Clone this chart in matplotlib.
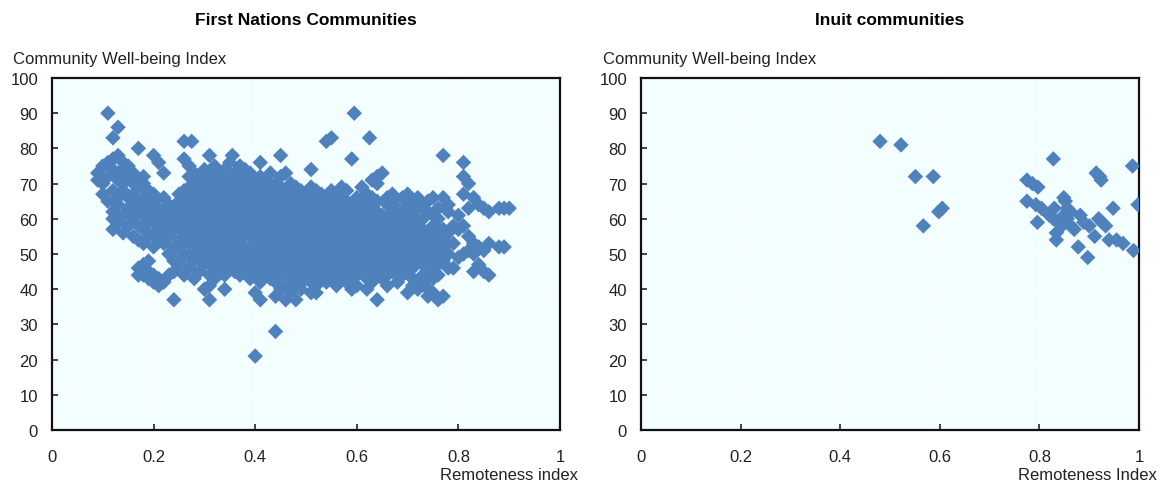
import matplotlib.pyplot as plt
from matplotlib import font_manager

# Remoteness index vs Community Well-being Index, per community
first_nations = [
    (0.09, 71), (0.09, 73),
    (0.10, 67), (0.10, 70), (0.10, 75),
    (0.11, 65), (0.11, 72), (0.11, 76), (0.11, 90),
    (0.12, 57), (0.12, 60), (0.12, 62), (0.12, 68), (0.12, 74), (0.12, 77), (0.12, 83),
    (0.13, 59), (0.13, 64), (0.13, 66), (0.13, 71), (0.13, 73), (0.13, 78), (0.13, 86),
    (0.14, 56), (0.14, 61), (0.14, 68), (0.14, 70), (0.14, 74), (0.14, 76),
    (0.15, 58), (0.15, 63), (0.15, 66), (0.15, 72), (0.15, 75),
    (0.16, 55), (0.16, 60), (0.16, 62), (0.16, 64), (0.16, 67), (0.16, 70), (0.16, 73),
    (0.17, 44), (0.17, 46), (0.17, 54), (0.17, 58), (0.17, 65), (0.17, 69), (0.17, 71), (0.17, 80),
    (0.18, 44), (0.18, 47), (0.18, 53), (0.18, 57), (0.18, 61), (0.18, 63), (0.18, 66), (0.18, 70), (0.18, 72),
    (0.19, 43), (0.19, 45), (0.19, 48), (0.19, 55), (0.19, 59), (0.19, 62), (0.19, 64), (0.19, 68),
    (0.20, 42), (0.20, 44), (0.20, 52), (0.20, 56), (0.20, 60), (0.20, 65), (0.20, 67), (0.20, 78),
    (0.21, 41), (0.21, 43), (0.21, 54), (0.21, 58), (0.21, 61), (0.21, 63), (0.21, 76),
    (0.22, 42), (0.22, 53), (0.22, 56), (0.22, 60), (0.22, 62), (0.22, 66), (0.22, 73),
    (0.23, 44), (0.23, 50), (0.23, 55), (0.23, 58), (0.23, 61), (0.23, 64),
    (0.24, 37), (0.24, 45), (0.24, 48), (0.24, 52), (0.24, 57), (0.24, 59), (0.24, 63),
    (0.25, 47), (0.25, 51), (0.25, 54), (0.25, 60), (0.25, 62), (0.25, 65), (0.25, 67),
    (0.26, 44), (0.26, 49), (0.26, 53), (0.26, 56), (0.26, 58), (0.26, 61), (0.26, 64), (0.26, 66),
    (0.26, 68), (0.26, 77), (0.26, 82),
    (0.27, 46), (0.27, 50), (0.27, 55), (0.27, 57), (0.27, 60), (0.27, 63), (0.27, 65), (0.27, 69),
    (0.27, 72), (0.27, 75), (0.275, 82),
    (0.28, 43), (0.28, 48), (0.28, 52), (0.28, 54), (0.28, 59), (0.28, 62), (0.28, 67), (0.28, 70), (0.28, 73),
    (0.29, 45), (0.29, 50), (0.29, 53), (0.29, 56), (0.29, 58), (0.29, 61), (0.29, 64), (0.29, 66),
    (0.29, 68), (0.29, 71),
    (0.30, 40), (0.30, 47), (0.30, 49), (0.30, 52), (0.30, 55), (0.30, 57), (0.30, 60), (0.30, 63),
    (0.30, 65), (0.30, 70), (0.30, 72), (0.30, 74),
    (0.31, 37), (0.31, 41), (0.31, 44), (0.31, 48), (0.31, 51), (0.31, 54), (0.31, 59), (0.31, 62),
    (0.31, 67), (0.31, 69), (0.31, 73), (0.31, 78),
    (0.32, 43), (0.32, 46), (0.32, 50), (0.32, 53), (0.32, 56), (0.32, 58), (0.32, 61), (0.32, 64),
    (0.32, 66), (0.32, 71), (0.32, 75),
    (0.33, 45), (0.33, 48), (0.33, 52), (0.33, 55), (0.33, 57), (0.33, 60), (0.33, 63), (0.33, 68),
    (0.33, 70), (0.33, 73),
    (0.34, 40), (0.34, 44), (0.34, 47), (0.34, 50), (0.34, 54), (0.34, 59), (0.34, 62), (0.34, 65),
    (0.34, 67), (0.34, 72), (0.34, 74),
    (0.35, 46), (0.35, 49), (0.35, 52), (0.35, 56), (0.35, 58), (0.35, 61), (0.35, 64), (0.35, 69),
    (0.35, 71), (0.35, 76), (0.355, 78),
    (0.36, 45), (0.36, 48), (0.36, 51), (0.36, 53), (0.36, 55), (0.36, 60), (0.36, 63), (0.36, 66),
    (0.36, 68), (0.36, 73),
    (0.37, 44), (0.37, 47), (0.37, 50), (0.37, 54), (0.37, 57), (0.37, 59), (0.37, 62), (0.37, 65),
    (0.37, 70), (0.37, 72), (0.37, 75),
    (0.38, 46), (0.38, 49), (0.38, 52), (0.38, 56), (0.38, 58), (0.38, 61), (0.38, 64), (0.38, 67),
    (0.38, 69), (0.38, 74),
    (0.39, 43), (0.39, 45), (0.39, 48), (0.39, 51), (0.39, 55), (0.39, 60), (0.39, 63), (0.39, 66),
    (0.39, 71), (0.39, 73),
    (0.40, 21), (0.40, 39), (0.40, 44), (0.40, 47), (0.40, 50), (0.40, 53), (0.40, 57), (0.40, 59),
    (0.40, 62), (0.40, 65), (0.40, 68), (0.40, 70), (0.41, 76),
    (0.41, 37), (0.41, 42), (0.41, 46), (0.41, 49), (0.41, 52), (0.41, 54), (0.41, 56), (0.41, 61),
    (0.41, 64), (0.41, 67), (0.41, 72),
    (0.42, 44), (0.42, 48), (0.42, 51), (0.42, 55), (0.42, 58), (0.42, 60), (0.42, 63), (0.42, 66),
    (0.42, 69), (0.42, 71),
    (0.43, 43), (0.43, 45), (0.43, 47), (0.43, 50), (0.43, 53), (0.43, 57), (0.43, 62), (0.43, 65),
    (0.43, 68), (0.43, 73),
    (0.44, 28), (0.44, 38), (0.44, 42), (0.44, 46), (0.44, 49), (0.44, 52), (0.44, 54), (0.44, 56),
    (0.44, 59), (0.44, 61), (0.44, 64), (0.44, 67), (0.44, 70),
    (0.45, 40), (0.45, 44), (0.45, 48), (0.45, 51), (0.45, 55), (0.45, 58), (0.45, 60), (0.45, 63),
    (0.45, 66), (0.45, 69), (0.45, 72), (0.45, 78),
    (0.46, 37), (0.46, 41), (0.46, 45), (0.46, 47), (0.46, 50), (0.46, 53), (0.46, 57), (0.46, 62),
    (0.46, 65), (0.46, 68), (0.46, 73),
    (0.47, 39), (0.47, 43), (0.47, 46), (0.47, 49), (0.47, 52), (0.47, 54), (0.47, 56), (0.47, 59),
    (0.47, 61), (0.47, 64), (0.47, 67), (0.47, 70),
    (0.48, 37), (0.48, 41), (0.48, 44), (0.48, 48), (0.48, 51), (0.48, 55), (0.48, 58), (0.48, 60),
    (0.48, 63), (0.48, 66), (0.48, 69),
    (0.49, 40), (0.49, 42), (0.49, 45), (0.49, 47), (0.49, 50), (0.49, 53), (0.49, 57), (0.49, 62),
    (0.49, 65), (0.49, 68),
    (0.50, 43), (0.50, 46), (0.50, 49), (0.50, 52), (0.50, 54), (0.50, 56), (0.50, 59), (0.50, 61),
    (0.50, 64), (0.50, 67), (0.51, 74),
    (0.51, 39), (0.51, 42), (0.51, 44), (0.51, 48), (0.51, 51), (0.51, 55), (0.51, 58), (0.51, 60),
    (0.51, 63), (0.51, 66), (0.51, 69),
    (0.52, 39), (0.52, 41), (0.52, 45), (0.52, 47), (0.52, 50), (0.52, 53), (0.52, 57), (0.52, 62),
    (0.52, 65), (0.52, 68),
    (0.53, 43), (0.53, 46), (0.53, 49), (0.53, 52), (0.53, 54), (0.53, 56), (0.53, 59), (0.53, 61),
    (0.53, 64), (0.53, 67),
    (0.54, 42), (0.54, 44), (0.54, 48), (0.54, 51), (0.54, 55), (0.54, 58), (0.54, 60), (0.54, 63),
    (0.54, 66), (0.54, 82),
    (0.55, 45), (0.55, 47), (0.55, 50), (0.55, 53), (0.55, 57), (0.55, 62), (0.55, 65), (0.55, 68),
    (0.55, 83),
    (0.56, 41), (0.56, 43), (0.56, 46), (0.56, 49), (0.56, 52), (0.56, 54), (0.56, 56), (0.56, 59),
    (0.56, 61), (0.56, 64), (0.56, 67),
    (0.57, 44), (0.57, 48), (0.57, 51), (0.57, 55), (0.57, 58), (0.57, 60), (0.57, 63), (0.57, 66),
    (0.57, 69),
    (0.58, 42), (0.58, 45), (0.58, 47), (0.58, 50), (0.58, 53), (0.58, 57), (0.58, 62), (0.58, 65),
    (0.58, 68),
    (0.59, 40), (0.59, 43), (0.59, 46), (0.59, 49), (0.59, 52), (0.59, 54), (0.59, 56), (0.59, 59),
    (0.59, 61), (0.59, 64), (0.59, 77), (0.595, 90),
    (0.60, 41), (0.60, 44), (0.60, 48), (0.60, 51), (0.60, 55), (0.60, 58), (0.60, 60), (0.60, 63),
    (0.60, 66),
    (0.61, 45), (0.61, 47), (0.61, 50), (0.61, 53), (0.61, 57), (0.61, 62), (0.61, 65), (0.61, 69),
    (0.62, 40), (0.62, 43), (0.62, 46), (0.62, 49), (0.62, 52), (0.62, 54), (0.62, 56), (0.62, 59),
    (0.62, 61), (0.62, 64), (0.62, 67), (0.625, 83),
    (0.63, 42), (0.63, 44), (0.63, 48), (0.63, 51), (0.63, 55), (0.63, 58), (0.63, 60), (0.63, 63),
    (0.63, 66), (0.63, 71),
    (0.64, 37), (0.64, 45), (0.64, 47), (0.64, 50), (0.64, 53), (0.64, 57), (0.64, 62), (0.64, 65),
    (0.64, 70), (0.64, 72),
    (0.65, 43), (0.65, 46), (0.65, 49), (0.65, 52), (0.65, 54), (0.65, 56), (0.65, 59), (0.65, 61),
    (0.65, 73),
    (0.66, 41), (0.66, 44), (0.66, 48), (0.66, 51), (0.66, 55), (0.66, 58), (0.66, 60), (0.66, 64),
    (0.66, 66),
    (0.67, 45), (0.67, 47), (0.67, 50), (0.67, 53), (0.67, 57), (0.67, 62), (0.67, 65), (0.67, 67),
    (0.68, 42), (0.68, 44), (0.68, 46), (0.68, 49), (0.68, 52), (0.68, 54), (0.68, 56), (0.68, 59),
    (0.68, 61), (0.68, 63),
    (0.69, 44), (0.69, 48), (0.69, 51), (0.69, 55), (0.69, 58), (0.69, 60), (0.69, 66),
    (0.70, 39), (0.70, 45), (0.70, 47), (0.70, 50), (0.70, 53), (0.70, 57), (0.70, 62), (0.70, 64),
    (0.70, 67),
    (0.71, 41), (0.71, 43), (0.71, 46), (0.71, 49), (0.71, 52), (0.71, 54), (0.71, 56), (0.71, 59),
    (0.71, 61), (0.71, 65),
    (0.72, 40), (0.72, 42), (0.72, 48), (0.72, 51), (0.72, 55), (0.72, 58), (0.72, 63), (0.72, 66),
    (0.73, 42), (0.73, 44), (0.73, 47), (0.73, 50), (0.73, 53), (0.73, 57), (0.73, 60), (0.73, 64),
    (0.74, 38), (0.74, 40), (0.74, 45), (0.74, 49), (0.74, 52), (0.74, 54), (0.74, 56), (0.74, 62),
    (0.74, 65),
    (0.75, 39), (0.75, 43), (0.75, 45), (0.75, 48), (0.75, 51), (0.75, 55), (0.75, 58), (0.75, 61),
    (0.75, 66),
    (0.76, 37), (0.76, 44), (0.76, 47), (0.76, 50), (0.76, 53), (0.76, 57), (0.76, 60), (0.76, 63),
    (0.77, 38), (0.77, 48), (0.77, 52), (0.77, 54), (0.77, 57), (0.77, 66), (0.77, 78),
    (0.78, 46), (0.78, 50), (0.78, 56), (0.78, 62), (0.78, 64),
    (0.79, 46), (0.79, 53), (0.79, 58),
    (0.80, 49), (0.80, 57), (0.80, 61),
    (0.81, 50), (0.81, 58), (0.81, 67), (0.81, 72), (0.81, 76),
    (0.82, 51), (0.82, 55), (0.82, 63), (0.82, 70),
    (0.83, 45), (0.83, 50), (0.83, 53), (0.83, 66),
    (0.84, 47), (0.84, 52), (0.84, 64),
    (0.85, 45), (0.85, 51), (0.85, 63),
    (0.86, 44), (0.86, 53), (0.86, 62),
    (0.88, 52), (0.88, 63),
    (0.89, 52), (0.89, 63),
    (0.90, 63),
]

inuit = [
    (0.480, 82), (0.522, 81), (0.551, 72), (0.587, 72), (0.567, 58),
    (0.598, 62), (0.605, 63),
    (0.775, 65), (0.775, 71), (0.786, 70), (0.797, 69), (0.828, 77),
    (0.793, 64), (0.804, 63), (0.796, 59), (0.830, 63),
    (0.820, 61), (0.828, 60), (0.838, 59), (0.845, 58), (0.834, 56),
    (0.849, 66), (0.852, 65), (0.856, 63), (0.863, 62), (0.849, 61),
    (0.856, 60), (0.863, 58), (0.870, 57),
    (0.882, 61), (0.889, 59), (0.900, 58),
    (0.914, 73), (0.921, 72), (0.924, 71),
    (0.919, 60), (0.926, 59), (0.933, 58),
    (0.911, 55), (0.948, 63), (0.940, 54), (0.955, 54),
    (0.968, 53), (0.987, 75), (0.998, 64),
    (0.834, 54), (0.878, 52), (0.897, 49), (0.989, 51),
]

x_ticks = [0, 0.2, 0.4, 0.6, 0.8, 1]
x_ticklabels = ["0", "0.2", "0.4", "0.6", "0.8", "1"]
y_ticks = list(range(0, 101, 10))

panels = [
    ("First Nations Communities", first_nations, "Remoteness index"),
    ("Inuit communities", inuit, "Remoteness Index"),
]

plt.rcParams["font.family"] = ["Liberation Sans", "DejaVu Sans"]

blue = "#4F81BD"
bg = "#F2FEFF"
ink = "#222222"

fig = plt.figure(figsize=(11.7, 4.85), dpi=100)
axes_rects = [
    [52 / 1170, 54 / 485, 508 / 1170, 352 / 485],
    [641 / 1170, 54 / 485, 498 / 1170, 352 / 485],
]

for rect, (title, pts, xlabel) in zip(axes_rects, panels):
    ax = fig.add_axes(rect)
    xs = [p[0] for p in pts]
    ys = [p[1] for p in pts]
    ax.scatter(xs, ys, marker="D", s=62, color=blue, edgecolors="none", zorder=3)

    ax.set_xlim(0, 1)
    ax.set_ylim(0, 100)
    ax.set_facecolor(bg)
    ax.set_xticks(x_ticks)
    ax.set_xticklabels(x_ticklabels)
    ax.set_yticks(y_ticks)
    ax.grid(True, color="white", linewidth=1.0, zorder=0)
    ax.set_axisbelow(True)
    ax.tick_params(direction="in", length=4, width=1.2, labelsize=12, colors=ink)
    ax.tick_params(axis="x", pad=14)
    ax.tick_params(axis="y", pad=10)
    for sp in ax.spines.values():
        sp.set_color("#111111")
        sp.set_linewidth(1.6)

    ax.set_title(title, fontsize=12.5, fontweight="bold", pad=39)
    ax.text(-0.077, 1.035, "Community Well-being Index", transform=ax.transAxes,
            ha="left", va="bottom", fontsize=12, color=ink)
    ax.text(1.035, -0.105, xlabel, transform=ax.transAxes,
            ha="right", va="top", fontsize=12, color=ink)

fig.savefig("out.png", dpi=100, facecolor="white")
